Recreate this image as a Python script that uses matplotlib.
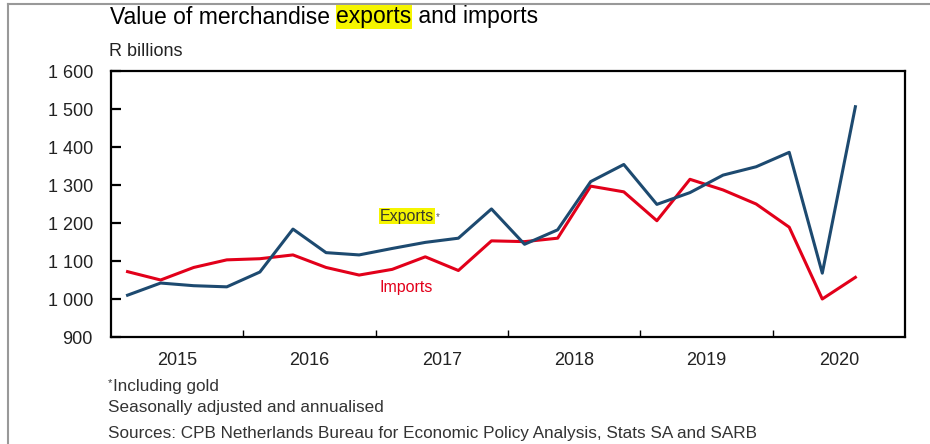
import matplotlib
matplotlib.use("Agg")
from matplotlib import pyplot as plt
from matplotlib.lines import Line2D

plt.rcParams['font.family'] = ['Liberation Sans', 'DejaVu Sans']

# quarterly data, 2015Q1 - 2020Q3, R billions (seasonally adjusted, annualised)
years = [2015, 2016, 2017, 2018, 2019, 2020]
exports = [1010, 1042, 1035, 1032, 1071, 1184, 1122, 1116, 1133, 1149, 1160, 1237,
           1144, 1182, 1309, 1354, 1249, 1280, 1326, 1348, 1386, 1068, 1506]
imports = [1072, 1050, 1083, 1103, 1106, 1116, 1083, 1063, 1078, 1111, 1075, 1153,
           1151, 1160, 1297, 1282, 1206, 1315, 1287, 1250, 1189, 1000, 1057]
yticks = [900, 1000, 1100, 1200, 1300, 1400, 1500, 1600]
ytick_labels = ["900", "1 000", "1 100", "1 200", "1 300", "1 400", "1 500", "1 600"]

x = []
for i in range(len(exports)):
    x.append(years[0] + (i % 4 + 0.5) / 4 + i // 4)

blue = "#1d4a70"
red = "#e2001a"

fig = plt.figure(figsize=(9.30, 4.44), dpi=100)
ax = fig.add_axes([111/930, 1-337/444, (905-111)/930, (337-71)/444])

ax.plot(x, imports, color=red, lw=2.2)
ax.plot(x, exports, color=blue, lw=2.2)

ax.set_xlim(2015, 2021)
ax.set_ylim(900, 1600)
ax.set_yticks(yticks)
ax.set_yticklabels(ytick_labels)
ax.tick_params(axis='y', direction='in', length=7, width=1.6, labelsize=13,
               pad=13, colors='black', labelcolor='#222222')
# year boundaries as ticks, labels centered in between
ax.set_xticks(years[1:])
ax.set_xticklabels([])
ax.tick_params(axis='x', direction='in', length=5, width=1)
for yr in years:
    ax.text(yr + 0.5, -0.055, str(yr), transform=ax.get_xaxis_transform(),
            ha='center', va='top', fontsize=13, color='#222222')
for s in ax.spines.values():
    s.set_linewidth(1.6)

r = fig.canvas.get_renderer()

# series labels
te = ax.text(2017.03, 1218, "Exports", fontsize=11.5, color='#3a3a2a', va='center',
             bbox=dict(facecolor='#f5f500', edgecolor='none', pad=0.6))
be = te.get_window_extent(r)
fig.text((be.x1 + 2)/930, (be.y1 - 3)/444, "*", fontsize=7, color='#555555', va='top')
ax.text(2017.03, 1030, "Imports", fontsize=11.5, color=red, va='center')

# title with highlighted word
t1 = fig.text(110/930, 1-17/444, "Value of merchandise ", fontsize=16.5, va='center')
bb = t1.get_window_extent(r)
t2 = fig.text(bb.x1/930, 1-17/444, "exports", fontsize=16.5, va='center',
              bbox=dict(facecolor='#f5f500', edgecolor='none', pad=0.5))
bb2 = t2.get_window_extent(r)
fig.text(bb2.x1/930, 1-17/444, " and imports", fontsize=16.5, va='center')

fig.text(109/930, 1-52/444, "R billions", fontsize=13, va='center', color='#222222')

fig.text(108/930, 1-383/444, "*", fontsize=8, va='center', color='#333333')
fig.text(113/930, 1-386/444, "Including gold", fontsize=12.3, va='center', color='#333333')
fig.text(108/930, 1-407/444, "Seasonally adjusted and annualised", fontsize=12.3,
         va='center', color='#333333')
fig.text(108/930, 1-433/444,
         "Sources: CPB Netherlands Bureau for Economic Policy Analysis, Stats SA and SARB",
         fontsize=12.3, va='center', color='#333333')

# outer frame lines (top and left)
fig.add_artist(Line2D([8/930, 1], [1-4/444, 1-4/444], color='#999999', lw=1.5))
fig.add_artist(Line2D([8/930, 8/930], [0, 1-4/444], color='#999999', lw=1.5))

fig.savefig("out.png", dpi=100)
